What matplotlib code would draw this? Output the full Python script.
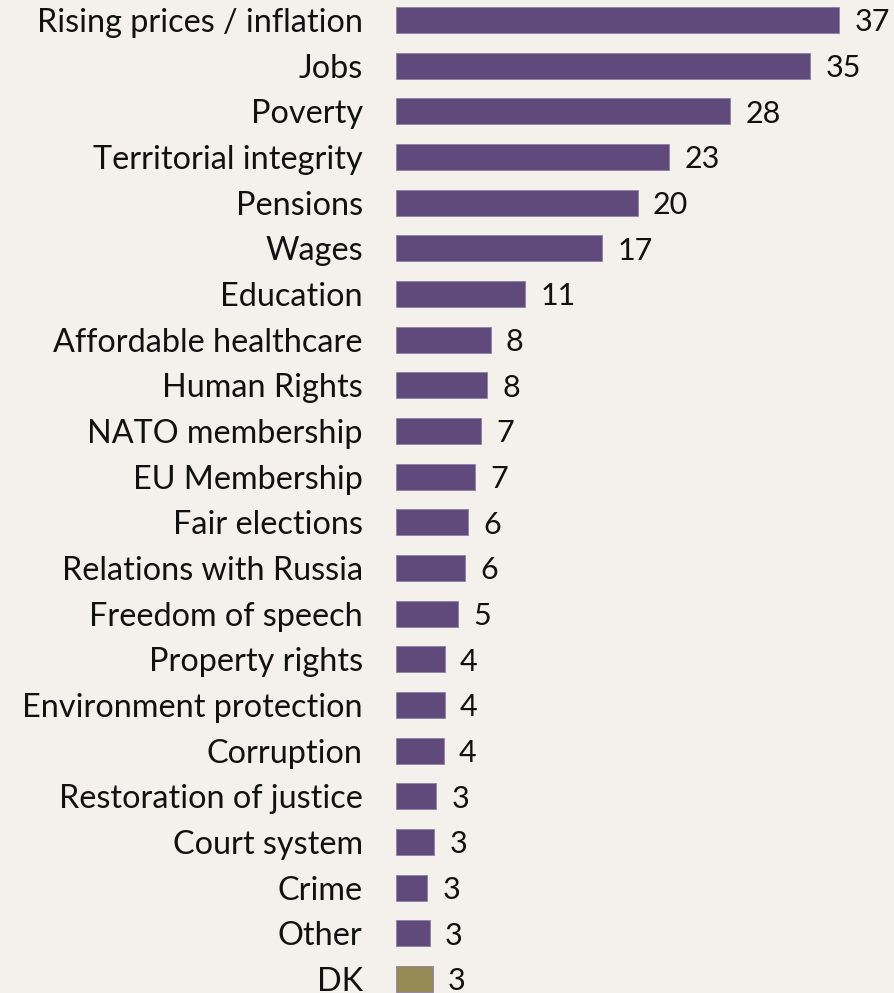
import matplotlib.pyplot as plt
import numpy as np

categories = ["Rising prices / inflation", "Jobs", "Poverty", "Territorial integrity",
              "Pensions", "Wages", "Education", "Affordable healthcare", "Human Rights",
              "NATO membership", "EU Membership", "Fair elections", "Relations with Russia",
              "Freedom of speech", "Property rights", "Environment protection", "Corruption",
              "Restoration of justice", "Court system", "Crime", "Other", "DK"]
values = [37.0, 34.6, 27.9, 22.8, 20.2, 17.2, 10.8, 7.9, 7.6, 7.1, 6.6, 6.0, 5.8,
          5.2, 4.06, 4.06, 3.98, 3.34, 3.2, 2.6, 2.8, 3.06]

bg = "#F4F1EC"
purple = "#604A7B"
olive = "#948A54"
colors = [purple] * (len(values) - 1) + [olive]

plt.rcParams['font.family'] = ['Lato', 'DejaVu Sans']

fig = plt.figure(figsize=(8.94, 9.93), dpi=100, facecolor=bg)
ax = fig.add_axes([396 / 894, 0, 1 - 396 / 894, 1])
ax.set_facecolor(bg)

y = np.arange(len(categories))
ax.barh(y, values, height=0.57, color=colors, edgecolor="#8E80A6", linewidth=0.6)

for yi, v in zip(y, values):
    ax.annotate(f"{int(v + 0.5)}", (v, yi), xytext=(11, 0), textcoords="offset points",
                va="center_baseline", ha="left", fontsize=22, color="#111111")

ax.set_xlim(0, 41.6)
ax.set_ylim(21.31, -0.438)
ax.set_yticks(y)
ax.set_yticklabels(categories, fontsize=23.3, color="#111111", va="center_baseline")
ax.tick_params(axis="y", length=0, pad=24)
ax.set_xticks([])
for s in ax.spines.values():
    s.set_visible(False)

fig.savefig("out.png", dpi=100, facecolor=bg)
